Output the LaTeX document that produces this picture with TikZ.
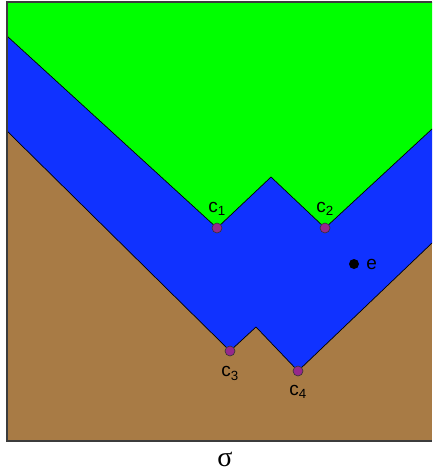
\documentclass[tikz,border=0pt]{standalone}
\usepackage{fontspec}
\setmainfont{Liberation Sans}
\newfontfamily\greekfont{Liberation Serif}
\usetikzlibrary{positioning}
\definecolor{topgreen}{RGB}{0,255,0}
\definecolor{midblue}{RGB}{16,50,255}
\definecolor{lowbrown}{RGB}{168,123,69}
\definecolor{dotpurple}{RGB}{150,40,140}
\definecolor{framegray}{RGB}{60,60,60}
\tikzstyle{border} = [black, line width=0.7pt]
\tikzstyle{frameline} = [framegray, line width=1.6pt]
\tikzstyle{critical} = [circle, minimum size=10pt, inner sep=0pt, draw=black!80, line width=0.6pt, fill=dotpurple]
\tikzstyle{point} = [circle, minimum size=10pt, inner sep=0pt, fill=black]
\tikzstyle{lbl} = [font=\fontsize{19}{19}\selectfont, inner sep=1pt]

\begin{document}
\begin{tikzpicture}[x=1pt, y=-1pt]
    \useasboundingbox (0,0) rectangle (432,474);

    % Corners of the regions
    \coordinate (tl) at (7,2);
    \coordinate (tr) at (432,2);
    \coordinate (bl) at (7,441);
    \coordinate (br) at (432,441);
    \coordinate (gl) at (7,36);
    \coordinate (gr) at (432,129);
    \coordinate (bll) at (7,131);
    \coordinate (blr) at (432,243);
    \coordinate (p1) at (271,177);
    \coordinate (p2) at (256,327);
    \coordinate (c1) at (217,228);
    \coordinate (c2) at (325,228);
    \coordinate (c3) at (230,351);
    \coordinate (c4) at (298,371);

    % Regions
    \fill [lowbrown] (tl) rectangle (br);
    \fill [midblue] (gl) -- (c1) -- (p1) -- (c2) -- (gr) -- (blr) -- (c4) -- (p2) -- (c3) -- (bll) -- cycle;
    \fill [topgreen] (tl) -- (tr) -- (gr) -- (c2) -- (p1) -- (c1) -- (gl) -- cycle;

    % Boundaries
    \draw [border] (gl) -- (c1) -- (p1) -- (c2) -- (gr);
    \draw [border] (bll) -- (c3) -- (p2) -- (c4) -- (blr);
    \draw [frameline] (tr) -- (tl) -- (bl) -- (br);

    % Points
    \node (n1) [critical] at (c1) {};
    \node (n2) [critical] at (c2) {};
    \node (n3) [critical] at (c3) {};
    \node (n4) [critical] at (c4) {};
    \node (e) [point] at (354,264) {};

    % Labels
    \node [lbl, above=6pt of n1] {c\textsubscript{1}};
    \node [lbl, above=6pt of n2] {c\textsubscript{2}};
    \node [lbl, below=9pt of n3] {c\textsubscript{3}};
    \node [lbl, below=8pt of n4] {c\textsubscript{4}};
    \node [lbl, right=6pt of e] {e};
    \node (sigma) at (225,459) {\greekfont\fontsize{28}{28}\selectfont σ};

\end{tikzpicture}
\end{document}
